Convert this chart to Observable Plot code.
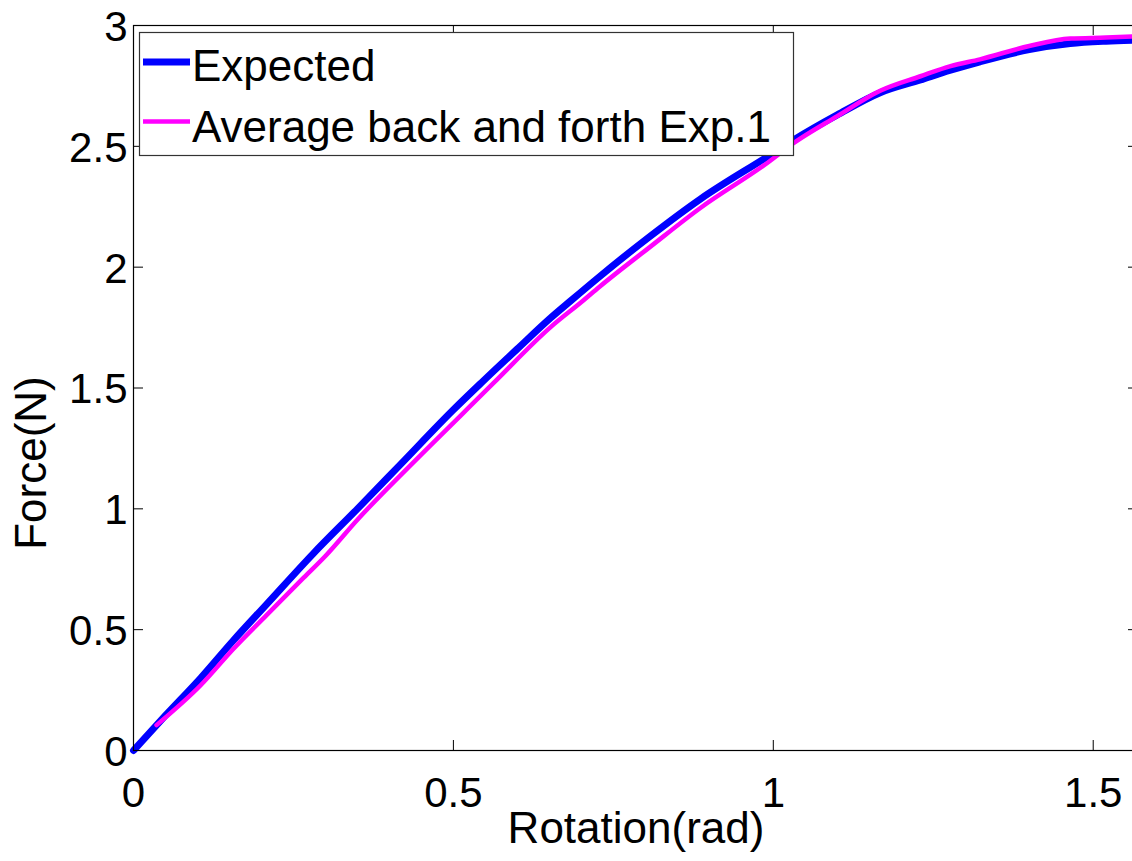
<!DOCTYPE html>
<html><head><meta charset="utf-8">
<script src="https://cdn.jsdelivr.net/npm/d3@7"></script>
<script src="https://cdn.jsdelivr.net/npm/@observablehq/plot@0.6"></script>
<style>
html,body{margin:0;padding:0;background:#fff;overflow:hidden;width:1132px;height:861px;}
#wrap{position:relative;width:1138px;height:861px;overflow:hidden;}
#wrap svg{max-width:none;}
</style></head><body><div id="wrap"></div>
<script>
// Data
const rotationExpected = [0, 0.05, 0.105, 0.156, 0.208, 0.281, 0.35, 0.417, 0.5, 0.545, 0.6, 0.652, 0.683, 0.728, 0.805, 0.886, 0.99, 1.031, 1.1, 1.167, 1.23, 1.277, 1.323, 1.4, 1.464, 1.52, 1.5708];
const forceExpected    = [0, 0.145, 0.3, 0.455, 0.605, 0.815, 1.0, 1.183, 1.41, 1.525, 1.662, 1.79, 1.86, 1.96, 2.123, 2.282, 2.456, 2.525, 2.63, 2.722, 2.775, 2.815, 2.85, 2.9, 2.925, 2.935, 2.94];
const rotationAverage  = [0.036, 0.105, 0.156, 0.208, 0.266, 0.3, 0.35, 0.434, 0.511, 0.5625, 0.652, 0.703, 0.728, 0.808, 0.886, 0.99, 1.031, 1.1, 1.167, 1.23, 1.277, 1.323, 1.4, 1.464, 1.52, 1.5708];
const forceAverage     = [0.105, 0.27, 0.42, 0.56, 0.715, 0.805, 0.955, 1.183, 1.385, 1.52, 1.752, 1.862, 1.918, 2.085, 2.245, 2.43, 2.512, 2.625, 2.73, 2.79, 2.832, 2.86, 2.915, 2.946, 2.95, 2.955];
const xTicks = [0, 0.5, 1, 1.5];
const yTicks = [0, 0.5, 1, 1.5, 2, 2.5, 3];
const seriesNames = ["Expected", "Average back and forth Exp.1"];
const seriesColors = ["#0000ff", "#ff00ff"];
const xDomain = [0, Math.PI / 2];
const yDomain = [0, 3];
const xLabel = "Rotation(rad)";
const yLabel = "Force(N)";

const W = 1138, H = 861, mL = 133, mT = 25, mB = 111, mR = 0;
const innerH = H - mT - mB;
const innerW = W - mL - mR;
const tickLen = 10;
const font = "'Liberation Sans', Arial, Helvetica, sans-serif";
const fmt = d => String(d);

const expected = rotationExpected.map((x, i) => ({x, y: forceExpected[i]}));
const average = rotationAverage.map((x, i) => ({x, y: forceAverage[i]}));

const chart = Plot.plot({
  width: W, height: H,
  marginLeft: mL, marginTop: mT, marginBottom: mB, marginRight: mR,
  style: {fontFamily: font, color: "black", background: "white", maxWidth: "none"},
  x: {domain: xDomain, ticks: xTicks},
  y: {domain: yDomain, ticks: yTicks},
  marks: [
    Plot.line(expected, {x: "x", y: "y", stroke: seriesColors[0], strokeWidth: 7, curve: "monotone-x"}),
    Plot.line(average, {x: "x", y: "y", stroke: seriesColors[1], strokeWidth: 4.5, curve: "monotone-x"}),
    Plot.frame({stroke: "black", strokeWidth: 1.2}),
    Plot.ruleX(xTicks, {x: d => d, stroke: "black", insetTop: innerH - tickLen}),
    Plot.ruleX(xTicks, {x: d => d, stroke: "black", insetBottom: innerH - tickLen}),
    Plot.ruleY(yTicks, {y: d => d, stroke: "black", insetRight: innerW - tickLen}),
    Plot.ruleY(yTicks, {y: d => d, stroke: "black", insetLeft: innerW - tickLen}),
    Plot.axisX(xTicks, {tickSize: 0, tickPadding: 27, fontSize: 42, label: null, tickFormat: fmt}),
    Plot.axisY(yTicks, {tickSize: 0, tickPadding: 6, fontSize: 42, label: null, dy: 2, tickFormat: fmt}),
    Plot.text([xLabel], {text: d => d, frameAnchor: "bottom", dy: 92, fontSize: 44}),
    Plot.text([yLabel], {text: d => d, frameAnchor: "left", textAnchor: "middle", dx: -102, dy: 75, rotate: -90, fontSize: 44})
  ]
});
document.getElementById("wrap").appendChild(chart);

// Legend overlay (drawn inside the axes like MATLAB)
const leg = d3.select("#wrap").append("svg")
  .attr("width", W).attr("height", H)
  .style("position", "absolute").style("left", "0px").style("top", "0px")
  .style("pointer-events", "none").style("max-width", "none");
leg.append("rect").attr("x", 139.5).attr("y", 32.5).attr("width", 654).attr("height", 123)
  .attr("fill", "white").attr("stroke", "#333").attr("stroke-width", 1.2);
const rows = [{y: 62, base: 81, w: 7}, {y: 121.5, base: 142, w: 4.5}];
seriesNames.forEach((name, i) => {
  leg.append("line").attr("x1", 143).attr("x2", 190).attr("y1", rows[i].y).attr("y2", rows[i].y)
    .attr("stroke", seriesColors[i]).attr("stroke-width", rows[i].w);
  leg.append("text").attr("x", 192).attr("y", rows[i].base).text(name)
    .attr("font-family", font).attr("font-size", 44).attr("fill", "black");
});
</script>
</body></html>
